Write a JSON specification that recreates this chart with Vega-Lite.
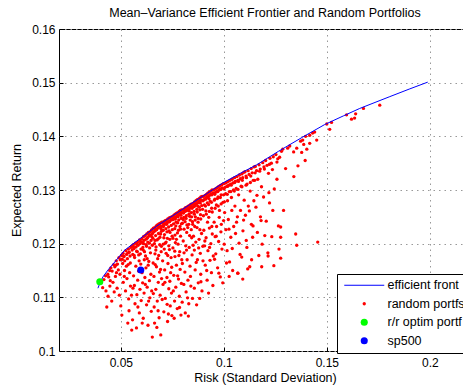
{
"$schema": "https://vega.github.io/schema/vega-lite/v6.json",
"width": 412,
"height": 322,
"autosize": {"type": "none"},
"padding": {"left": 59, "top": 29, "right": 0, "bottom": 40},
"background": "white",
"title": {"text": "Mean\u2013Variance Efficient Frontier and Random Portfolios", "fontSize": 12.5, "fontWeight": "normal", "font": "Liberation Sans", "color": "black", "offset": 4, "anchor": "middle"},
"config": {
  "view": {"stroke": "black", "strokeWidth": 1},
  "axis": {"labelFont": "Liberation Sans", "labelFontSize": 12, "labelColor": "black", "titleFont": "Liberation Sans", "titleFontSize": 12.5, "titleFontWeight": "normal", "titleColor": "black", "domain": false, "ticks": true, "tickSize": -4, "tickColor": "black", "gridColor": "#999999", "gridDash": [1.5, 4], "gridOpacity": 1},
  "legend": {"orient": "none", "legendX": 278, "legendY": 245, "strokeColor": "black", "fillColor": "white", "padding": 5, "rowPadding": 5.5, "labelFont": "Liberation Sans", "labelFontSize": 12.5, "labelColor": "black", "symbolOffset": 16, "labelOffset": 17, "symbolStrokeWidth": 0}
},
"datasets": {
"frontier": [{"x":0.0389,"y":0.1117},{"x":0.0400,"y":0.1128},{"x":0.0413,"y":0.1138},{"x":0.0440,"y":0.1152},{"x":0.0471,"y":0.1166},{"x":0.0519,"y":0.1188},{"x":0.0592,"y":0.1209},{"x":0.0675,"y":0.1233},{"x":0.0772,"y":0.1257},{"x":0.0835,"y":0.1273},{"x":0.0920,"y":0.1294},{"x":0.0995,"y":0.1313},{"x":0.1080,"y":0.1331},{"x":0.1160,"y":0.1347},{"x":0.1265,"y":0.1372},{"x":0.1380,"y":0.1398},{"x":0.1490,"y":0.1422},{"x":0.1580,"y":0.1438},{"x":0.1660,"y":0.1452},{"x":0.1806,"y":0.1474},{"x":0.1900,"y":0.1488},{"x":0.1990,"y":0.1501}],
"special": [{"x":0.0398,"y":0.1129,"series":"r/r optim portf"},{"x":0.0597,"y":0.1151,"series":"sp500"}],
"random": [
{"x":0.0405,"y":0.1128},{"x":0.0418,"y":0.1133},{"x":0.0426,"y":0.1140},{"x":0.0437,"y":0.1143},{"x":0.0446,"y":0.1150},{"x":0.0441,"y":0.1138},
{"x":0.0412,"y":0.1118},{"x":0.0428,"y":0.1112},{"x":0.0432,"y":0.1082},{"x":0.0447,"y":0.1121},{"x":0.0438,"y":0.1102},{"x":0.0449,"y":0.1131},
{"x":0.0452,"y":0.1155},{"x":0.0458,"y":0.1149},{"x":0.0465,"y":0.1161},{"x":0.0471,"y":0.1157},{"x":0.0478,"y":0.1168},{"x":0.0484,"y":0.1162},{"x":0.0491,"y":0.1174},{"x":0.0497,"y":0.1170},{"x":0.0488,"y":0.1151},
{"x":0.0456,"y":0.1093},{"x":0.0462,"y":0.1128},{"x":0.0474,"y":0.1139},{"x":0.0482,"y":0.1117},{"x":0.0493,"y":0.1104},{"x":0.0500,"y":0.1084},{"x":0.0468,"y":0.1110},{"x":0.0496,"y":0.1143},
{"x":0.0503,"y":0.1178},{"x":0.0507,"y":0.1171},{"x":0.0511,"y":0.1182},{"x":0.0516,"y":0.1176},{"x":0.0519,"y":0.1168},{"x":0.0524,"y":0.1187},{"x":0.0528,"y":0.1180},{"x":0.0532,"y":0.1172},{"x":0.0537,"y":0.1190},{"x":0.0541,"y":0.1184},{"x":0.0545,"y":0.1177},{"x":0.0549,"y":0.1193},{"x":0.0546,"y":0.1164},
{"x":0.0505,"y":0.1067},{"x":0.0512,"y":0.1128},{"x":0.0518,"y":0.1150},{"x":0.0523,"y":0.1112},{"x":0.0534,"y":0.1052},{"x":0.0530,"y":0.1135},{"x":0.0538,"y":0.1097},{"x":0.0543,"y":0.1146},{"x":0.0547,"y":0.1121},{"x":0.0527,"y":0.1158},{"x":0.0552,"y":0.1104},{"x":0.0540,"y":0.1075},
{"x":0.0552,"y":0.1195},{"x":0.0555,"y":0.1188},{"x":0.0558,"y":0.1180},{"x":0.0561,"y":0.1198},{"x":0.0564,"y":0.1191},{"x":0.0567,"y":0.1174},{"x":0.0571,"y":0.1201},{"x":0.0574,"y":0.1194},{"x":0.0577,"y":0.1186},{"x":0.0581,"y":0.1203},{"x":0.0584,"y":0.1197},{"x":0.0587,"y":0.1179},{"x":0.0591,"y":0.1207},{"x":0.0594,"y":0.1200},{"x":0.0598,"y":0.1190},{"x":0.0589,"y":0.1168},
{"x":0.0553,"y":0.1039},{"x":0.0557,"y":0.1058},{"x":0.0562,"y":0.1140},{"x":0.0566,"y":0.1122},{"x":0.0569,"y":0.1088},{"x":0.0573,"y":0.1158},{"x":0.0578,"y":0.1105},{"x":0.0582,"y":0.1132},{"x":0.0586,"y":0.1149},{"x":0.0590,"y":0.1071},{"x":0.0593,"y":0.1115},{"x":0.0597,"y":0.1162},{"x":0.0576,"y":0.1043},{"x":0.0599,"y":0.1094},
{"x":0.0602,"y":0.1209},{"x":0.0605,"y":0.1202},{"x":0.0607,"y":0.1193},{"x":0.0610,"y":0.1213},{"x":0.0612,"y":0.1206},{"x":0.0615,"y":0.1185},{"x":0.0618,"y":0.1215},{"x":0.0621,"y":0.1208},{"x":0.0623,"y":0.1198},{"x":0.0626,"y":0.1218},{"x":0.0629,"y":0.1211},{"x":0.0631,"y":0.1203},{"x":0.0634,"y":0.1221},{"x":0.0637,"y":0.1214},{"x":0.0640,"y":0.1192},{"x":0.0642,"y":0.1222},{"x":0.0645,"y":0.1216},{"x":0.0647,"y":0.1206},{"x":0.0649,"y":0.1225},{"x":0.0644,"y":0.1183},{"x":0.0620,"y":0.1177},
{"x":0.0603,"y":0.1146},{"x":0.0606,"y":0.1127},{"x":0.0609,"y":0.1061},{"x":0.0613,"y":0.1108},{"x":0.0617,"y":0.1137},{"x":0.0622,"y":0.1155},{"x":0.0625,"y":0.1086},{"x":0.0628,"y":0.1119},{"x":0.0632,"y":0.1048},{"x":0.0636,"y":0.1167},{"x":0.0639,"y":0.1131},{"x":0.0641,"y":0.1099},{"x":0.0646,"y":0.1143},{"x":0.0648,"y":0.1074},{"x":0.0633,"y":0.1160},{"x":0.0614,"y":0.1170},{"x":0.0650,"y":0.1112},
{"x":0.0652,"y":0.1226},{"x":0.0654,"y":0.1219},{"x":0.0656,"y":0.1210},{"x":0.0658,"y":0.1229},{"x":0.0660,"y":0.1222},{"x":0.0663,"y":0.1200},{"x":0.0665,"y":0.1230},{"x":0.0667,"y":0.1224},{"x":0.0669,"y":0.1215},{"x":0.0672,"y":0.1233},{"x":0.0674,"y":0.1226},{"x":0.0676,"y":0.1207},{"x":0.0678,"y":0.1235},{"x":0.0680,"y":0.1229},{"x":0.0683,"y":0.1219},{"x":0.0685,"y":0.1237},{"x":0.0687,"y":0.1231},{"x":0.0690,"y":0.1212},{"x":0.0692,"y":0.1238},{"x":0.0694,"y":0.1232},{"x":0.0697,"y":0.1223},{"x":0.0699,"y":0.1240},{"x":0.0671,"y":0.1194},{"x":0.0689,"y":0.1198},
{"x":0.0653,"y":0.1026},{"x":0.0657,"y":0.1164},{"x":0.0661,"y":0.1139},{"x":0.0664,"y":0.1052},{"x":0.0666,"y":0.1181},{"x":0.0670,"y":0.1115},{"x":0.0673,"y":0.1157},{"x":0.0677,"y":0.1093},{"x":0.0679,"y":0.1172},{"x":0.0682,"y":0.1128},{"x":0.0686,"y":0.1062},{"x":0.0688,"y":0.1147},{"x":0.0691,"y":0.1104},{"x":0.0694,"y":0.1030},{"x":0.0696,"y":0.1185},{"x":0.0698,"y":0.1135},{"x":0.0662,"y":0.1082},{"x":0.0684,"y":0.1178},{"x":0.0675,"y":0.1044},
{"x":0.0702,"y":0.1239},{"x":0.0704,"y":0.1233},{"x":0.0706,"y":0.1225},{"x":0.0708,"y":0.1241},{"x":0.0710,"y":0.1236},{"x":0.0712,"y":0.1217},{"x":0.0715,"y":0.1243},{"x":0.0717,"y":0.1237},{"x":0.0719,"y":0.1228},{"x":0.0721,"y":0.1244},{"x":0.0723,"y":0.1239},{"x":0.0726,"y":0.1210},{"x":0.0728,"y":0.1246},{"x":0.0730,"y":0.1240},{"x":0.0732,"y":0.1231},{"x":0.0735,"y":0.1248},{"x":0.0737,"y":0.1242},{"x":0.0739,"y":0.1221},{"x":0.0741,"y":0.1249},{"x":0.0743,"y":0.1244},{"x":0.0745,"y":0.1234},{"x":0.0747,"y":0.1250},{"x":0.0749,"y":0.1214},{"x":0.0716,"y":0.1201},{"x":0.0733,"y":0.1196},
{"x":0.0703,"y":0.1168},{"x":0.0705,"y":0.1124},{"x":0.0709,"y":0.1073},{"x":0.0713,"y":0.1151},{"x":0.0716,"y":0.1098},{"x":0.0720,"y":0.1182},{"x":0.0724,"y":0.1137},{"x":0.0727,"y":0.1055},{"x":0.0729,"y":0.1163},{"x":0.0733,"y":0.1116},{"x":0.0736,"y":0.1189},{"x":0.0740,"y":0.1084},{"x":0.0742,"y":0.1146},{"x":0.0744,"y":0.1174},{"x":0.0746,"y":0.1108},{"x":0.0748,"y":0.1066},{"x":0.0711,"y":0.1190},{"x":0.0738,"y":0.1130},{"x":0.0725,"y":0.1087},
{"x":0.0752,"y":0.1251},{"x":0.0754,"y":0.1245},{"x":0.0756,"y":0.1237},{"x":0.0758,"y":0.1253},{"x":0.0760,"y":0.1248},{"x":0.0762,"y":0.1228},{"x":0.0764,"y":0.1255},{"x":0.0766,"y":0.1249},{"x":0.0768,"y":0.1240},{"x":0.0771,"y":0.1257},{"x":0.0773,"y":0.1251},{"x":0.0775,"y":0.1220},{"x":0.0777,"y":0.1258},{"x":0.0779,"y":0.1253},{"x":0.0781,"y":0.1244},{"x":0.0783,"y":0.1260},{"x":0.0785,"y":0.1255},{"x":0.0787,"y":0.1232},{"x":0.0789,"y":0.1262},{"x":0.0791,"y":0.1257},{"x":0.0793,"y":0.1247},{"x":0.0795,"y":0.1263},{"x":0.0797,"y":0.1258},{"x":0.0799,"y":0.1238},{"x":0.0770,"y":0.1208},{"x":0.0790,"y":0.1214},
{"x":0.0753,"y":0.1192},{"x":0.0757,"y":0.1141},{"x":0.0761,"y":0.1093},{"x":0.0763,"y":0.1176},{"x":0.0767,"y":0.1119},{"x":0.0770,"y":0.1160},{"x":0.0774,"y":0.1079},{"x":0.0778,"y":0.1199},{"x":0.0780,"y":0.1134},{"x":0.0784,"y":0.1102},{"x":0.0786,"y":0.1185},{"x":0.0788,"y":0.1152},{"x":0.0792,"y":0.1067},{"x":0.0794,"y":0.1126},{"x":0.0796,"y":0.1170},{"x":0.0798,"y":0.1091},{"x":0.0759,"y":0.1061},{"x":0.0782,"y":0.1178},{"x":0.0765,"y":0.1202},
{"x":0.0802,"y":0.1263},{"x":0.0804,"y":0.1257},{"x":0.0806,"y":0.1249},{"x":0.0808,"y":0.1265},{"x":0.0810,"y":0.1260},{"x":0.0812,"y":0.1241},{"x":0.0814,"y":0.1267},{"x":0.0816,"y":0.1261},{"x":0.0818,"y":0.1252},{"x":0.0821,"y":0.1268},{"x":0.0823,"y":0.1263},{"x":0.0825,"y":0.1230},{"x":0.0827,"y":0.1270},{"x":0.0829,"y":0.1265},{"x":0.0831,"y":0.1255},{"x":0.0833,"y":0.1271},{"x":0.0835,"y":0.1266},{"x":0.0837,"y":0.1244},{"x":0.0839,"y":0.1273},{"x":0.0841,"y":0.1268},{"x":0.0843,"y":0.1258},{"x":0.0845,"y":0.1274},{"x":0.0847,"y":0.1269},{"x":0.0849,"y":0.1236},{"x":0.0820,"y":0.1221},{"x":0.0842,"y":0.1226},
{"x":0.0803,"y":0.1205},{"x":0.0807,"y":0.1183},{"x":0.0811,"y":0.1147},{"x":0.0815,"y":0.1196},{"x":0.0817,"y":0.1110},{"x":0.0822,"y":0.1170},{"x":0.0826,"y":0.1132},{"x":0.0830,"y":0.1088},{"x":0.0832,"y":0.1193},{"x":0.0836,"y":0.1158},{"x":0.0840,"y":0.1121},{"x":0.0844,"y":0.1211},{"x":0.0846,"y":0.1179},{"x":0.0848,"y":0.1098},{"x":0.0813,"y":0.1071},{"x":0.0834,"y":0.1215},{"x":0.0828,"y":0.1065},
{"x":0.0852,"y":0.1275},{"x":0.0854,"y":0.1269},{"x":0.0856,"y":0.1260},{"x":0.0858,"y":0.1278},{"x":0.0860,"y":0.1272},{"x":0.0862,"y":0.1250},{"x":0.0865,"y":0.1280},{"x":0.0867,"y":0.1274},{"x":0.0869,"y":0.1264},{"x":0.0871,"y":0.1282},{"x":0.0873,"y":0.1276},{"x":0.0875,"y":0.1240},{"x":0.0877,"y":0.1283},{"x":0.0879,"y":0.1278},{"x":0.0881,"y":0.1268},{"x":0.0883,"y":0.1285},{"x":0.0885,"y":0.1280},{"x":0.0887,"y":0.1254},{"x":0.0889,"y":0.1287},{"x":0.0891,"y":0.1281},{"x":0.0893,"y":0.1271},{"x":0.0870,"y":0.1230},{"x":0.0895,"y":0.1288},
{"x":0.0853,"y":0.1214},{"x":0.0857,"y":0.1188},{"x":0.0861,"y":0.1151},{"x":0.0864,"y":0.1203},{"x":0.0868,"y":0.1086},{"x":0.0872,"y":0.1170},{"x":0.0876,"y":0.1127},{"x":0.0880,"y":0.1208},{"x":0.0883,"y":0.1098},{"x":0.0886,"y":0.1182},{"x":0.0888,"y":0.1143},{"x":0.0892,"y":0.1219},{"x":0.0894,"y":0.1112},{"x":0.0898,"y":0.1195},{"x":0.0859,"y":0.1232},{"x":0.0884,"y":0.1226},
{"x":0.0902,"y":0.1288},{"x":0.0904,"y":0.1282},{"x":0.0906,"y":0.1272},{"x":0.0909,"y":0.1290},{"x":0.0911,"y":0.1284},{"x":0.0913,"y":0.1261},{"x":0.0916,"y":0.1292},{"x":0.0918,"y":0.1286},{"x":0.0920,"y":0.1276},{"x":0.0922,"y":0.1294},{"x":0.0925,"y":0.1288},{"x":0.0927,"y":0.1249},{"x":0.0929,"y":0.1296},{"x":0.0931,"y":0.1290},{"x":0.0934,"y":0.1279},{"x":0.0936,"y":0.1298},{"x":0.0938,"y":0.1292},{"x":0.0941,"y":0.1266},{"x":0.0943,"y":0.1300},{"x":0.0946,"y":0.1294},{"x":0.0921,"y":0.1240},
{"x":0.0903,"y":0.1225},{"x":0.0907,"y":0.1196},{"x":0.0910,"y":0.1160},{"x":0.0914,"y":0.1211},{"x":0.0919,"y":0.1132},{"x":0.0923,"y":0.1187},{"x":0.0926,"y":0.1108},{"x":0.0930,"y":0.1229},{"x":0.0933,"y":0.1169},{"x":0.0937,"y":0.1200},{"x":0.0940,"y":0.1146},{"x":0.0944,"y":0.1218},{"x":0.0947,"y":0.1122},{"x":0.0949,"y":0.1177},
{"x":0.0952,"y":0.1300},{"x":0.0954,"y":0.1294},{"x":0.0957,"y":0.1283},{"x":0.0959,"y":0.1302},{"x":0.0962,"y":0.1296},{"x":0.0964,"y":0.1272},{"x":0.0967,"y":0.1304},{"x":0.0969,"y":0.1298},{"x":0.0972,"y":0.1287},{"x":0.0974,"y":0.1306},{"x":0.0977,"y":0.1300},{"x":0.0979,"y":0.1262},{"x":0.0982,"y":0.1308},{"x":0.0984,"y":0.1302},{"x":0.0987,"y":0.1291},{"x":0.0990,"y":0.1310},{"x":0.0993,"y":0.1304},{"x":0.0996,"y":0.1277},{"x":0.0998,"y":0.1312},
{"x":0.0953,"y":0.1240},{"x":0.0958,"y":0.1213},{"x":0.0961,"y":0.1181},{"x":0.0965,"y":0.1232},{"x":0.0970,"y":0.1155},{"x":0.0975,"y":0.1204},{"x":0.0978,"y":0.1249},{"x":0.0983,"y":0.1138},{"x":0.0986,"y":0.1222},{"x":0.0991,"y":0.1190},{"x":0.0995,"y":0.1127},{"x":0.0999,"y":0.1243},
{"x":0.1003,"y":0.1312},{"x":0.1006,"y":0.1305},{"x":0.1009,"y":0.1293},{"x":0.1012,"y":0.1314},{"x":0.1015,"y":0.1307},{"x":0.1018,"y":0.1280},{"x":0.1021,"y":0.1316},{"x":0.1024,"y":0.1309},{"x":0.1027,"y":0.1297},{"x":0.1030,"y":0.1318},{"x":0.1033,"y":0.1311},{"x":0.1037,"y":0.1286},{"x":0.1040,"y":0.1320},{"x":0.1044,"y":0.1313},{"x":0.1047,"y":0.1300},
{"x":0.1004,"y":0.1258},{"x":0.1010,"y":0.1226},{"x":0.1016,"y":0.1187},{"x":0.1022,"y":0.1245},{"x":0.1028,"y":0.1166},{"x":0.1034,"y":0.1212},{"x":0.1039,"y":0.1262},{"x":0.1043,"y":0.1150},{"x":0.1048,"y":0.1232},{"x":0.1026,"y":0.1139},
{"x":0.1052,"y":0.1323},{"x":0.1056,"y":0.1316},{"x":0.1060,"y":0.1303},{"x":0.1064,"y":0.1325},{"x":0.1068,"y":0.1318},{"x":0.1072,"y":0.1291},{"x":0.1076,"y":0.1328},{"x":0.1080,"y":0.1321},{"x":0.1084,"y":0.1307},{"x":0.1088,"y":0.1330},{"x":0.1092,"y":0.1323},{"x":0.1097,"y":0.1333},
{"x":0.1054,"y":0.1270},{"x":0.1062,"y":0.1240},{"x":0.1068,"y":0.1145},{"x":0.1074,"y":0.1201},{"x":0.1081,"y":0.1262},{"x":0.1087,"y":0.1175},{"x":0.1093,"y":0.1224},{"x":0.1099,"y":0.1281},
{"x":0.1103,"y":0.1334},{"x":0.1108,"y":0.1326},{"x":0.1113,"y":0.1311},{"x":0.1118,"y":0.1336},{"x":0.1123,"y":0.1329},{"x":0.1128,"y":0.1298},{"x":0.1133,"y":0.1340},{"x":0.1138,"y":0.1332},{"x":0.1143,"y":0.1318},{"x":0.1147,"y":0.1343},
{"x":0.1105,"y":0.1253},{"x":0.1112,"y":0.1193},{"x":0.1119,"y":0.1270},{"x":0.1126,"y":0.1157},{"x":0.1134,"y":0.1236},{"x":0.1140,"y":0.1212},{"x":0.1146,"y":0.1280},
{"x":0.1153,"y":0.1344},{"x":0.1159,"y":0.1336},{"x":0.1165,"y":0.1320},{"x":0.1171,"y":0.1347},{"x":0.1177,"y":0.1339},{"x":0.1183,"y":0.1306},{"x":0.1189,"y":0.1351},{"x":0.1195,"y":0.1343},
{"x":0.1156,"y":0.1268},{"x":0.1163,"y":0.1221},{"x":0.1170,"y":0.1178},{"x":0.1178,"y":0.1250},{"x":0.1186,"y":0.1199},{"x":0.1193,"y":0.1287},
{"x":0.1203,"y":0.1355},{"x":0.1210,"y":0.1346},{"x":0.1217,"y":0.1331},{"x":0.1224,"y":0.1359},{"x":0.1231,"y":0.1350},{"x":0.1240,"y":0.1362},
{"x":0.1206,"y":0.1242},{"x":0.1214,"y":0.1183},{"x":0.1222,"y":0.1276},{"x":0.1233,"y":0.1213},{"x":0.1245,"y":0.1302},
{"x":0.1253,"y":0.1366},{"x":0.1262,"y":0.1358},{"x":0.1271,"y":0.1361},{"x":0.1280,"y":0.1372},{"x":0.1286,"y":0.1376},
{"x":0.1276,"y":0.1231},{"x":0.1276,"y":0.1212},{"x":0.1276,"y":0.1173},{"x":0.1268,"y":0.1190},{"x":0.1290,"y":0.1262},
{"x":0.1068,"y":0.1145},{"x":0.1092,"y":0.1134},{"x":0.1116,"y":0.1153},{"x":0.1184,"y":0.1157},{"x":0.1243,"y":0.1159},{"x":0.1135,"y":0.1170},{"x":0.1215,"y":0.1177},
{"x":0.1310,"y":0.1378},{"x":0.1320,"y":0.1382},{"x":0.1339,"y":0.1371},{"x":0.1354,"y":0.1378},{"x":0.1373,"y":0.1391},{"x":0.1383,"y":0.1393},{"x":0.1397,"y":0.1400},{"x":0.1417,"y":0.1402},{"x":0.1431,"y":0.1406},{"x":0.1441,"y":0.1408},{"x":0.1451,"y":0.1393},{"x":0.1417,"y":0.1387},{"x":0.1388,"y":0.1385},{"x":0.1378,"y":0.1370},{"x":0.1403,"y":0.1376},{"x":0.1500,"y":0.1423},{"x":0.1514,"y":0.1413},{"x":0.1523,"y":0.1426},{"x":0.1596,"y":0.1440},{"x":0.1620,"y":0.1432},{"x":0.1635,"y":0.1434},{"x":0.1640,"y":0.1442},{"x":0.1678,"y":0.1452},{"x":0.1757,"y":0.1458},{"x":0.1349,"y":0.1218},{"x":0.1354,"y":0.1197},{"x":0.1456,"y":0.1203},{"x":0.1340,"y":0.1325},{"x":0.1360,"y":0.1345},{"x":0.1300,"y":0.1340},{"x":0.1395,"y":0.1355},
{"x":0.0476,"y":0.1160},{"x":0.0479,"y":0.1146},{"x":0.0509,"y":0.1163},{"x":0.0513,"y":0.1177},{"x":0.0534,"y":0.1183},{"x":0.0536,"y":0.1161},{"x":0.0563,"y":0.1193},{"x":0.0565,"y":0.1178},{"x":0.0579,"y":0.1199},{"x":0.0580,"y":0.1185},{"x":0.0596,"y":0.1204},{"x":0.0595,"y":0.1181},{"x":0.0611,"y":0.1200},{"x":0.0609,"y":0.1188},{"x":0.0627,"y":0.1210},{"x":0.0625,"y":0.1195},{"x":0.0628,"y":0.1172},{"x":0.0638,"y":0.1217},{"x":0.0639,"y":0.1201},{"x":0.0651,"y":0.1213},{"x":0.0653,"y":0.1197},{"x":0.0668,"y":0.1227},{"x":0.0666,"y":0.1206},{"x":0.0670,"y":0.1188},{"x":0.0681,"y":0.1233},{"x":0.0682,"y":0.1209},{"x":0.0695,"y":0.1228},{"x":0.0693,"y":0.1218},{"x":0.0697,"y":0.1195},{"x":0.0707,"y":0.1232},{"x":0.0709,"y":0.1211},{"x":0.0706,"y":0.1199},{"x":0.0722,"y":0.1236},{"x":0.0724,"y":0.1222},{"x":0.0720,"y":0.1203},{"x":0.0736,"y":0.1241},{"x":0.0734,"y":0.1224},{"x":0.0738,"y":0.1208},{"x":0.0751,"y":0.1245},{"x":0.0750,"y":0.1226},{"x":0.0753,"y":0.1210},{"x":0.0765,"y":0.1246},{"x":0.0767,"y":0.1233},{"x":0.0763,"y":0.1216},{"x":0.0778,"y":0.1250},{"x":0.0776,"y":0.1239},{"x":0.0780,"y":0.1225},{"x":0.0792,"y":0.1253},{"x":0.0794,"y":0.1237},{"x":0.0790,"y":0.1227},{"x":0.0805,"y":0.1258},{"x":0.0803,"y":0.1245},{"x":0.0807,"y":0.1227},{"x":0.0819,"y":0.1262},{"x":0.0817,"y":0.1247},{"x":0.0821,"y":0.1235},{"x":0.0832,"y":0.1261},{"x":0.0834,"y":0.1251},{"x":0.0830,"y":0.1236},{"x":0.0846,"y":0.1266},{"x":0.0844,"y":0.1250},{"x":0.0848,"y":0.1241},{"x":0.0859,"y":0.1270},{"x":0.0857,"y":0.1255},{"x":0.0861,"y":0.1244},{"x":0.0873,"y":0.1270},{"x":0.0871,"y":0.1259},{"x":0.0875,"y":0.1247},{"x":0.0886,"y":0.1276},{"x":0.0884,"y":0.1263},{"x":0.0888,"y":0.1246},{"x":0.0899,"y":0.1280},{"x":0.0897,"y":0.1264},{"x":0.0901,"y":0.1252},{"x":0.0913,"y":0.1283},{"x":0.0911,"y":0.1270},{"x":0.0915,"y":0.1255},{"x":0.0928,"y":0.1284},{"x":0.0926,"y":0.1273},{"x":0.0930,"y":0.1260},{"x":0.0942,"y":0.1291},{"x":0.0940,"y":0.1277},{"x":0.0944,"y":0.1259},{"x":0.0956,"y":0.1292},{"x":0.0954,"y":0.1281},{"x":0.0958,"y":0.1266},{"x":0.0971,"y":0.1297},{"x":0.0969,"y":0.1284},{"x":0.0973,"y":0.1270},{"x":0.0985,"y":0.1301},{"x":0.0983,"y":0.1286},{"x":0.0987,"y":0.1274},{"x":0.1001,"y":0.1302},{"x":0.0999,"y":0.1291},{"x":0.1003,"y":0.1278},{"x":0.1019,"y":0.1307},{"x":0.1017,"y":0.1292},{"x":0.1036,"y":0.1309},{"x":0.1034,"y":0.1297},{"x":0.1053,"y":0.1314},{"x":0.1051,"y":0.1298},{"x":0.1071,"y":0.1316},{"x":0.1069,"y":0.1301},{"x":0.1090,"y":0.1318},{"x":0.1088,"y":0.1306},{"x":0.1110,"y":0.1323},{"x":0.1108,"y":0.1309},{"x":0.1131,"y":0.1326},{"x":0.1129,"y":0.1314},{"x":0.1152,"y":0.1332},{"x":0.1150,"y":0.1318},{"x":0.1174,"y":0.1335},{"x":0.1197,"y":0.1339},{"x":0.1222,"y":0.1348},{"x":0.1236,"y":0.1338},{"x":0.1258,"y":0.1352},
{"x":0.0517,"y":0.1139},{"x":0.0559,"y":0.1117},{"x":0.0583,"y":0.1082},{"x":0.0604,"y":0.1052},{"x":0.0619,"y":0.1124},{"x":0.0635,"y":0.1093},{"x":0.0658,"y":0.1107},{"x":0.0667,"y":0.1161},{"x":0.0681,"y":0.1075},{"x":0.0693,"y":0.1152},{"x":0.0701,"y":0.1096},{"x":0.0714,"y":0.1128},{"x":0.0728,"y":0.1178},{"x":0.0731,"y":0.1069},{"x":0.0747,"y":0.1156},{"x":0.0755,"y":0.1112},{"x":0.0762,"y":0.1186},{"x":0.0776,"y":0.1140},{"x":0.0785,"y":0.1081},{"x":0.0799,"y":0.1163},{"x":0.0806,"y":0.1124},{"x":0.0819,"y":0.1188},{"x":0.0824,"y":0.1099},{"x":0.0838,"y":0.1139},{"x":0.0851,"y":0.1197},{"x":0.0857,"y":0.1117},{"x":0.0866,"y":0.1165},{"x":0.0878,"y":0.1192},{"x":0.0889,"y":0.1129},{"x":0.0899,"y":0.1168},{"x":0.0908,"y":0.1205},{"x":0.0917,"y":0.1150},{"x":0.0931,"y":0.1193},{"x":0.0942,"y":0.1232},{"x":0.0955,"y":0.1171},{"x":0.0963,"y":0.1214},{"x":0.0976,"y":0.1145},{"x":0.0988,"y":0.1236},{"x":0.1002,"y":0.1199},{"x":0.1013,"y":0.1164},{"x":0.1025,"y":0.1227},{"x":0.1041,"y":0.1191},{"x":0.1057,"y":0.1219},{"x":0.1066,"y":0.1250},{"x":0.1079,"y":0.1180},{"x":0.1096,"y":0.1244},{"x":0.1109,"y":0.1206},{"x":0.1124,"y":0.1261},{"x":0.1142,"y":0.1233},{"x":0.1161,"y":0.1290},{"x":0.1181,"y":0.1243},{"x":0.1199,"y":0.1215},{"x":0.1219,"y":0.1295},{"x":0.1238,"y":0.1262},{"x":0.1258,"y":0.1320},{"x":0.1265,"y":0.1233}
]
},
"encoding": {
  "x": {"field": "x", "type": "quantitative", "scale": {"domain": [0.02, 0.22], "nice": false, "zero": false}, "axis": {"title": "Risk (Standard Deviation)", "values": [0.05, 0.1, 0.15, 0.2], "format": "~g", "labelPadding": 10, "titlePadding": 3, "grid": true}},
  "y": {"field": "y", "type": "quantitative", "scale": {"domain": [0.1, 0.16], "nice": false, "zero": false}, "axis": {"title": "Expected Return", "values": [0.1, 0.11, 0.12, 0.13, 0.14, 0.15, 0.16], "format": "~g", "labelPadding": 8, "titlePadding": 8, "grid": true}}
},
"layer": [
  {"data": {"name": "random"}, "mark": {"type": "point", "filled": true, "opacity": 1, "strokeWidth": 0},
   "encoding": {
     "color": {"datum": "random portfs", "type": "nominal", "scale": {"domain": ["efficient front", "random portfs", "r/r optim portf", "sp500"], "range": ["#0000ff", "#ff0000", "#00ff00", "#0000ff"]}, "legend": {"title": null, "encode": {"symbols": {"update": {"stroke": {"value": "#0000ff"}, "strokeWidth": {"signal": "datum.value === 'efficient front' ? 1 : 0"}}}}}},
     "shape": {"datum": "random portfs", "type": "nominal", "scale": {"type": "ordinal", "domain": ["efficient front", "random portfs", "r/r optim portf", "sp500"], "range": ["M-4,0H4", "circle", "circle", "circle"]}, "legend": {"title": null, "encode": {"symbols": {"update": {"stroke": {"value": "#0000ff"}, "strokeWidth": {"signal": "datum.value === 'efficient front' ? 1 : 0"}}}}}},
     "size": {"datum": "random portfs", "type": "nominal", "scale": {"type": "ordinal", "domain": ["efficient front", "random portfs", "r/r optim portf", "sp500"], "range": [100, 11, 50, 50]}, "legend": {"title": null, "encode": {"symbols": {"update": {"stroke": {"value": "#0000ff"}, "strokeWidth": {"signal": "datum.value === 'efficient front' ? 1 : 0"}}}}}}
   }},
  {"data": {"name": "frontier"}, "mark": {"type": "line", "strokeWidth": 1},
   "encoding": {"color": {"datum": "efficient front", "type": "nominal", "scale": {"domain": ["efficient front", "random portfs", "r/r optim portf", "sp500"], "range": ["#0000ff", "#ff0000", "#00ff00", "#0000ff"]}, "legend": {"title": null, "encode": {"symbols": {"update": {"stroke": {"value": "#0000ff"}, "strokeWidth": {"signal": "datum.value === 'efficient front' ? 1 : 0"}}}}}}}},
  {"data": {"name": "special"}, "mark": {"type": "point", "filled": true, "opacity": 1, "strokeWidth": 0},
   "encoding": {
     "color": {"field": "series", "type": "nominal", "scale": {"domain": ["efficient front", "random portfs", "r/r optim portf", "sp500"], "range": ["#0000ff", "#ff0000", "#00ff00", "#0000ff"]}, "legend": {"title": null}},
     "shape": {"field": "series", "type": "nominal", "scale": {"type": "ordinal", "domain": ["efficient front", "random portfs", "r/r optim portf", "sp500"], "range": ["M-4,0H4", "circle", "circle", "circle"]}, "legend": {"title": null}},
     "size": {"field": "series", "type": "nominal", "scale": {"type": "ordinal", "domain": ["efficient front", "random portfs", "r/r optim portf", "sp500"], "range": [100, 11, 50, 50]}, "legend": {"title": null}}
   }}
]
}
